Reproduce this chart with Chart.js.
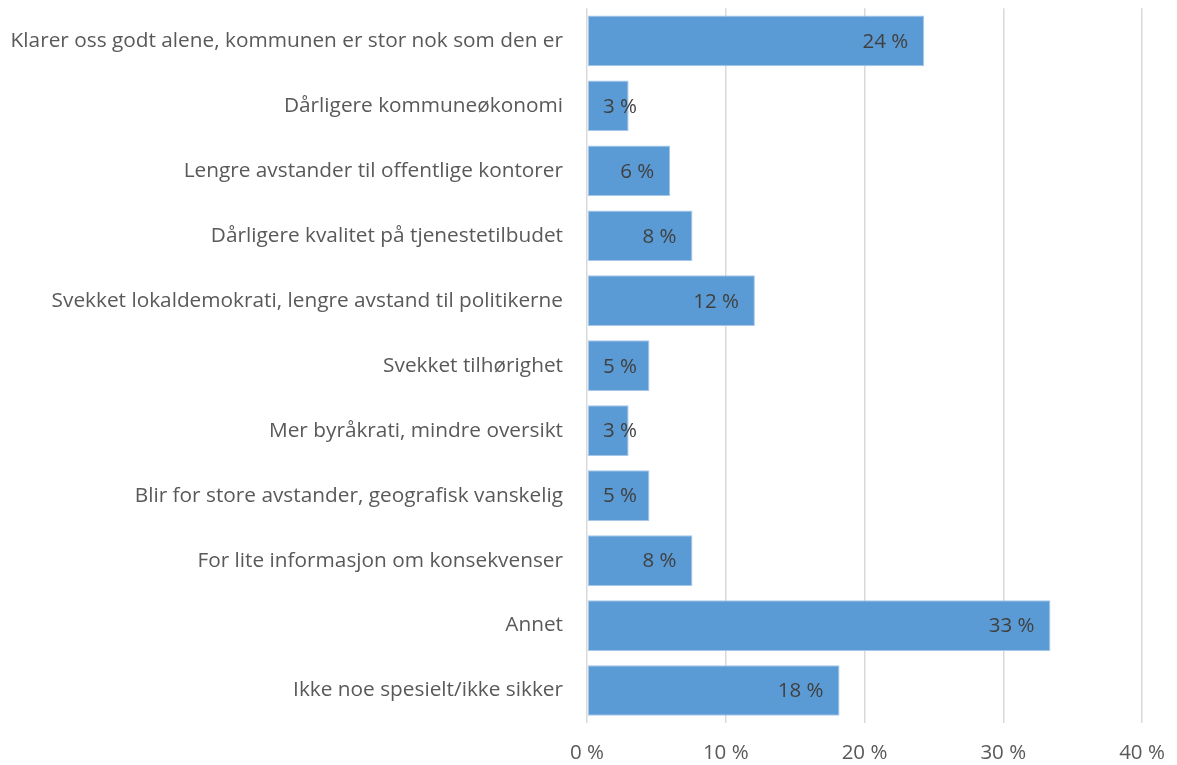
<!DOCTYPE html>
<html>
<head>
<meta charset="utf-8">
<script src="https://cdn.jsdelivr.net/npm/chart.js@4"></script>
<style>
  html, body { margin: 0; padding: 0; background: #fff; }
  #wrap { width: 1177px; height: 765px; }
</style>
</head>
<body>
<div id="wrap"><canvas id="chart"></canvas></div>
<script>
const categories = [
  'Klarer oss godt alene, kommunen er stor nok som den er',
  'Dårligere kommuneøkonomi',
  'Lengre avstander til offentlige kontorer',
  'Dårligere kvalitet på tjenestetilbudet',
  'Svekket lokaldemokrati, lengre avstand til politikerne',
  'Svekket tilhørighet',
  'Mer byråkrati, mindre oversikt',
  'Blir for store avstander, geografisk vanskelig',
  'For lite informasjon om konsekvenser',
  'Annet',
  'Ikke noe spesielt/ikke sikker'
]
const shares = [24.3, 3.0, 6.0, 7.6, 12.1, 4.5, 3.0, 4.5, 7.6, 33.4, 18.2]
const xTicks = [0, 10, 20, 30, 40]

const fontFamily = '"Open Sans", Lato, sans-serif'
const textColor = '#595959'

// labels at the inner end of each bar
const barLabels = {
  id: 'barLabels',
  afterDatasetsDraw(chart) {
    const ctx = chart.ctx
    const meta = chart.getDatasetMeta(0)
    const x0 = chart.scales.x.getPixelForValue(0)
    ctx.save()
    ctx.font = '20.5px ' + fontFamily
    ctx.fillStyle = '#404040'
    ctx.textBaseline = 'middle'
    ctx.textAlign = 'left'
    meta.data.forEach((bar, i) => {
      const text = Math.round(shares[i]) + ' %'
      const w = ctx.measureText(text).width
      const left = Math.max(bar.x - 16 - w, x0 + 16)
      ctx.fillText(text, left, bar.y + 1)
    })
    ctx.restore()
  }
}

new Chart(document.getElementById('chart'), {
  type: 'bar',
  data: {
    labels: categories,
    datasets: [{
      data: shares,
      backgroundColor: '#5b9bd5',
      borderColor: '#a7c7e9',
      borderWidth: 1,
      borderSkipped: false,
      barPercentage: 0.78,
      categoryPercentage: 1
    }]
  },
  options: {
    indexAxis: 'y',
    responsive: true,
    maintainAspectRatio: false,
    animation: false,
    layout: { padding: { top: 8, right: 35, bottom: 0, left: 0 } },
    plugins: {
      legend: { display: false },
      tooltip: { enabled: false }
    },
    scales: {
      x: {
        min: 0,
        max: 40,
        afterFit(scale) { scale.height = 42 },
        afterBuildTicks(scale) { scale.ticks = xTicks.map(v => ({ value: v })) },
        grid: { color: '#d9d9d9', lineWidth: 1.5, drawTicks: true, tickLength: 22, tickColor: 'rgba(0,0,0,0)' },
        border: { display: false },
        ticks: {
          padding: 0,
          color: textColor,
          font: { family: fontFamily, size: 20.5, lineHeight: 0.8 },
          callback: v => v + ' %'
        }
      },
      y: {
        afterFit(scale) { scale.width = 587 },
        grid: { drawOnChartArea: false, drawTicks: true, tickLength: 24, tickColor: 'rgba(0,0,0,0)' },
        border: { display: false },
        ticks: {
          padding: 0,
          color: textColor,
          font: { family: fontFamily, size: 20.8, lineHeight: 0.8 }
        }
      }
    }
  },
  plugins: [barLabels]
})
</script>
</body>
</html>
